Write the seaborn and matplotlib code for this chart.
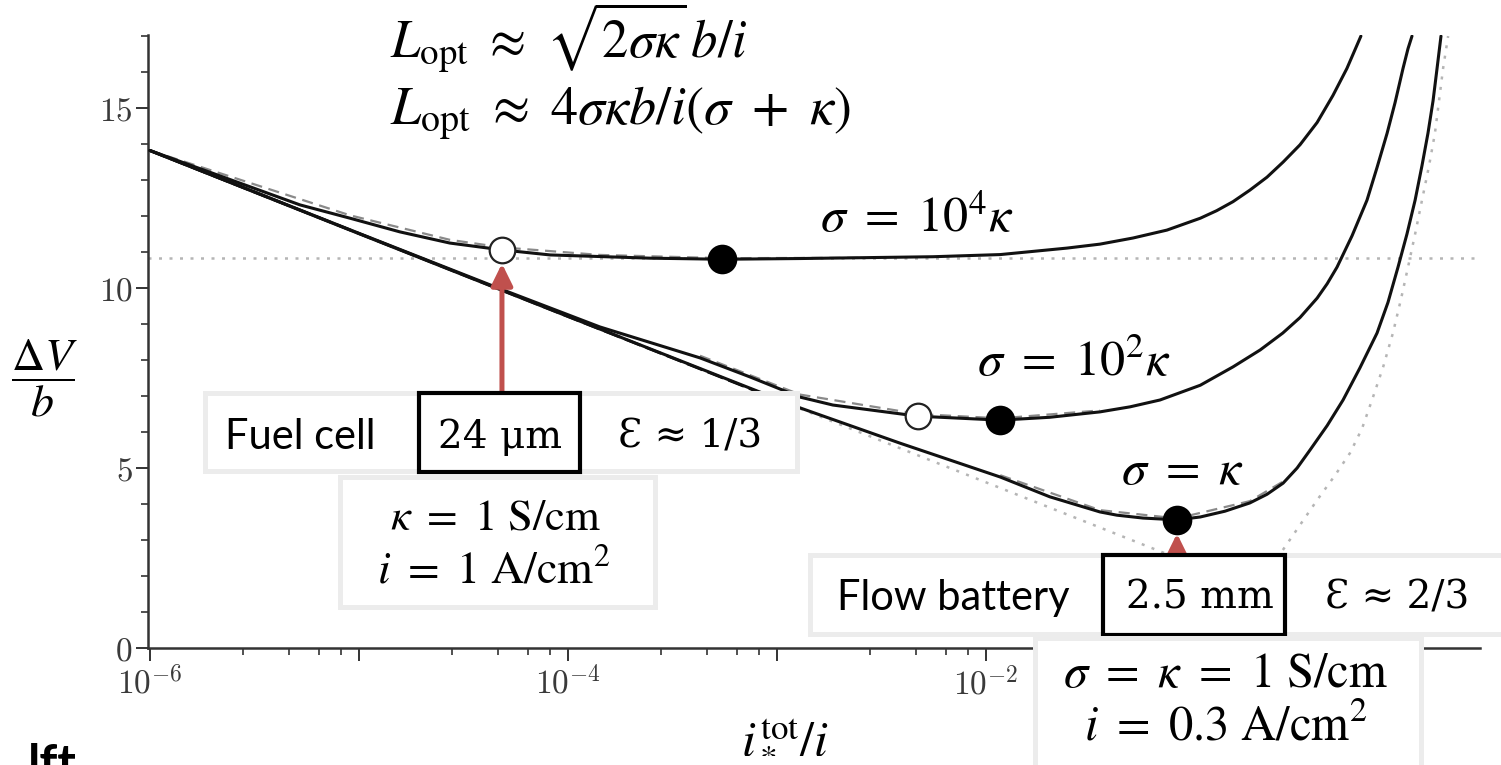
import math
import matplotlib
matplotlib.use("Agg")
import matplotlib.pyplot as plt
import pandas as pd
import seaborn as sns
from matplotlib.patches import Rectangle
from matplotlib.ticker import FixedLocator, FuncFormatter, MultipleLocator, NullFormatter, LogLocator

# ---- data: dimensionless loss dV/b against i*_tot / i ----
ratio_1e4_x = [1.0e-6, 5.22e-6, 9.06e-6, 1.57e-5, 2.72e-5, 4.83e-5, 8.20e-5, 2.47e-4, 5.46e-4,
               1.29e-3, 5.57e-3, 1.17e-2, 2.44e-2, 3.51e-2, 5.05e-2, 7.34e-2, 0.106, 0.127,
               0.152, 0.183, 0.221, 0.264, 0.318, 0.384, 0.457, 0.533, 0.622]
ratio_1e4_y = [13.82, 12.31, 11.94, 11.56, 11.25, 11.06, 10.92, 10.83, 10.80,
               10.82, 10.87, 10.93, 11.11, 11.22, 11.39, 11.61, 11.94, 12.15,
               12.40, 12.72, 13.08, 13.50, 13.98, 14.60, 15.35, 16.10, 17.00]

ratio_1e2_x = [1.0e-6, 1.0e-5, 4.73e-5, 1.42e-4, 4.28e-4, 7.43e-4, 1.29e-3, 1.85e-3, 4.73e-3,
               1.17e-2, 2.02e-2, 3.51e-2, 4.89e-2, 6.80e-2, 0.106, 0.152, 0.205, 0.263, 0.318,
               0.384, 0.429, 0.478, 0.564, 0.665, 0.743, 0.830, 0.906, 0.989, 1.045, 1.092]
ratio_1e2_y = [13.82, 11.52, 9.98, 8.92, 8.06, 7.53, 6.97, 6.75, 6.44,
               6.33, 6.41, 6.56, 6.70, 6.89, 7.30, 7.81, 8.28, 8.75, 9.18,
               9.72, 10.12, 10.58, 11.45, 12.44, 13.35, 14.30, 15.15, 16.10, 16.65, 17.00]

ratio_1_x = [1.0e-6, 1.0e-5, 1.0e-4, 1.29e-3, 3.88e-3, 1.17e-2, 2.02e-2, 3.51e-2, 4.23e-2,
             5.64e-2, 8.20e-2, 0.106, 0.139, 0.183, 0.221, 0.264, 0.308, 0.355, 0.429, 0.511,
             0.615, 0.743, 0.838, 0.936, 1.033, 1.130, 1.219, 1.302, 1.377, 1.439, 1.503]
ratio_1_y = [13.82, 11.51, 9.21, 6.67, 5.69, 4.75, 4.20, 3.78, 3.69,
             3.61, 3.56, 3.64, 3.80, 4.03, 4.27, 4.58, 5.00, 5.50, 6.18, 6.89,
             7.78, 8.75, 9.60, 10.58, 11.50, 12.44, 13.40, 14.30, 15.20, 16.10, 17.00]

# approximate solutions (grey dashed)
approx_1e4_x = [1.0e-6, 9.06e-6, 2.72e-5, 4.83e-5, 1.42e-4, 5.46e-4, 2.5e-3]
approx_1e4_y = [13.82, 12.02, 11.34, 11.13, 10.92, 10.83, 10.84]
approx_1e2_x = [4.28e-4, 1.29e-3, 4.73e-3, 1.17e-2, 3.51e-2]
approx_1e2_y = [8.12, 7.04, 6.50, 6.38, 6.60]
approx_1_x = [1.17e-2, 3.51e-2, 8.20e-2, 0.183, 0.263]
approx_1_y = [4.80, 3.83, 3.60, 4.08, 4.62]

# Tafel line and limiting asymptotes
tafel_x = [1.0e-6, 1.29e-3]
tafel_y = [13.82, 6.65]
asym_left_x = [1.29e-3, 0.17]
asym_left_y = [6.65, 1.77]
asym_right_x = [0.17, 0.263, 0.384, 0.468, 0.552, 0.630, 0.703, 0.794, 0.885, 0.968,
                1.045, 1.130, 1.219, 1.318, 1.406, 1.538, 1.626]
asym_right_y = [1.77, 2.72, 4.11, 4.80, 5.42, 6.10, 6.89, 7.80, 8.75, 9.70,
                10.58, 11.50, 12.44, 13.40, 14.30, 16.10, 17.00]
plateau_y = 10.83

# optimum markers
open_x = [4.83e-5, 4.73e-3]
open_y = [11.06, 6.44]
filled_x = [5.46e-4, 1.17e-2, 8.20e-2]
filled_y = [10.80, 6.33, 3.56]

x_major = [1e-6, 1e-5, 1e-4, 1e-3, 1e-2, 1e-1, 1e0]
x_labels = {-6: r"$10^{-6}$", -4: r"$10^{-4}$", -2: r"$10^{-2}$"}
y_major = [0, 5, 10, 15]

W, H = 1501, 765
sns.set_theme(style="white")
plt.rcParams["font.family"] = ["DejaVu Serif"]
plt.rcParams["mathtext.fontset"] = "cm"

fig = plt.figure(figsize=(W / 100, H / 100), dpi=100)
ax = fig.add_axes([148 / W, 1 - 648 / H, (1480 - 148) / W, (648 - 35) / H])


def frame(xs, ys):
    return pd.DataFrame({"x": xs, "y": ys})


sns.lineplot(data=frame(tafel_x, tafel_y), x="x", y="y", ax=ax, color="black",
             linestyle=(0, (6, 2)), linewidth=2.0, sort=False, estimator=None)
for xs, ys in [(asym_left_x, asym_left_y), (asym_right_x, asym_right_y)]:
    sns.lineplot(data=frame(xs, ys), x="x", y="y", ax=ax, color="#b5b5b5",
                 linestyle=(0, (1.2, 3)), linewidth=1.8, sort=False, estimator=None)
ax.axhline(plateau_y, color="#b5b5b5", linestyle=(0, (1.2, 3)), linewidth=1.8, zorder=1)

for xs, ys in [(ratio_1e4_x, ratio_1e4_y), (ratio_1e2_x, ratio_1e2_y), (ratio_1_x, ratio_1_y)]:
    sns.lineplot(data=frame(xs, ys), x="x", y="y", ax=ax, color="#111111",
                 linewidth=2.2, sort=False, estimator=None, zorder=3)
for xs, ys in [(approx_1e4_x, approx_1e4_y), (approx_1e2_x, approx_1e2_y), (approx_1_x, approx_1_y)]:
    sns.lineplot(data=frame(xs, ys), x="x", y="y", ax=ax, color="#8a8a8a",
                 linestyle=(0, (5, 3)), linewidth=1.6, sort=False, estimator=None, zorder=2)

sns.scatterplot(data=frame(open_x, open_y), x="x", y="y", ax=ax, s=340,
                facecolor="white", edgecolor="#222222", linewidth=1.6, zorder=4)
sns.scatterplot(data=frame(filled_x, filled_y), x="x", y="y", ax=ax, s=390,
                color="black", edgecolor="black", zorder=4)

ax.set_xscale("log")
ax.set_xlim(0.978e-6, 2.31)
ax.set_ylim(0, 17.03)
ax.set_xlabel("")
ax.set_ylabel("")
for side in ["top", "right"]:
    ax.spines[side].set_visible(False)
for side in ["left", "bottom"]:
    ax.spines[side].set_color("#333333")
    ax.spines[side].set_linewidth(1.8)

ax.xaxis.set_major_locator(FixedLocator(x_major))
ax.xaxis.set_major_formatter(FuncFormatter(
    lambda v, p: x_labels.get(int(round(math.log10(v))), "")))
ax.xaxis.set_minor_locator(LogLocator(base=10, subs=[2.8, 4.6, 6.4, 8.2], numticks=20))
ax.xaxis.set_minor_formatter(NullFormatter())
ax.yaxis.set_major_locator(FixedLocator(y_major))
ax.yaxis.set_major_formatter(FuncFormatter(lambda v, p: r"$%d$" % v))
ax.yaxis.set_minor_locator(MultipleLocator(1))
ax.tick_params(which="major", direction="out", length=9, width=1.4, color="#333333",
               labelsize=24, labelcolor="#3a3a3a", pad=2)
ax.tick_params(axis="x", which="major", pad=4)
ax.tick_params(which="minor", direction="out", length=5, width=1.2, color="#333333")
ax.tick_params(axis="both", which="both", bottom=True, left=True)

# red pointers from the annotation boxes to the optimum markers
red = "#C0504D"
arrow = dict(arrowstyle="-|>,head_length=0.65,head_width=0.32", color=red, lw=3.6,
             shrinkA=0, shrinkB=0, mutation_scale=20)
ax.annotate("", xy=(open_x[0], open_y[0] - 0.38), xytext=(open_x[0], 7.12),
            arrowprops=arrow, zorder=3)
ax.annotate("", xy=(filled_x[2], filled_y[2] - 0.38), xytext=(filled_x[2], 2.55),
            arrowprops=arrow, zorder=3, annotation_clip=False)


def fx(px):
    return px / W


def fy(py):
    return 1 - py / H


def box(x0, y0, x1, y1, edge, lw):
    fig.add_artist(Rectangle((fx(x0), fy(y1)), (x1 - x0) / W, (y1 - y0) / H,
                             transform=fig.transFigure, facecolor="white",
                             edgecolor=edge, linewidth=lw, zorder=5))


def label(px, py, s, size, **kw):
    kw.setdefault("ha", "center")
    kw.setdefault("va", "center")
    fig.text(fx(px), fy(py), s, fontsize=size, zorder=6, color="black", **kw)


light = "#ececec"
sans = ["Lato", "DejaVu Sans"]
serif = ["DejaVu Serif"]

# fuel cell annotation
box(205, 393, 797, 471, light, 3.6)
box(419, 393, 580, 472, "black", 3.0)
box(340, 477, 655, 607, light, 3.6)
label(300, 437, "Fuel cell", 30, family=sans)
label(500, 437, "24 μm", 28, family=serif)
label(690, 437, "Ɛ ≈ 1/3", 28, family=serif)
label(495, 517, r"$\kappa\ =\ 1\ \mathrm{S/cm}$", 32, math_fontfamily="stix")
label(494, 572, r"$i\ =\ 1\ \mathrm{A/cm^2}$", 33, math_fontfamily="stix")

# flow battery annotation
box(810, 555, 1504, 634, light, 3.6)
box(1103, 555, 1285, 635, "black", 3.0)
box(1035, 638, 1421, 772, light, 3.6)
label(953, 598, "Flow battery", 30, family=sans)
label(1200, 598, "2.5 mm", 28, family=serif)
label(1397, 598, "Ɛ ≈ 2/3", 28, family=serif)
label(1226, 673, r"$\sigma\ =\ \kappa\ =\ 1\ \mathrm{S/cm}$", 35, math_fontfamily="stix")
label(1226, 727, r"$i\ =\ 0.3\ \mathrm{A/cm^2}$", 35, math_fontfamily="stix")

# curve labels
label(917, 218, r"$\sigma\ =\ 10^4\kappa$", 36, math_fontfamily="stix")
label(1074, 362, r"$\sigma\ =\ 10^2\kappa$", 36, math_fontfamily="stix")
label(1182, 470, r"$\sigma\ =\ \kappa$", 36, math_fontfamily="stix")

# optimum thickness formulas
label(390, 57, r"$L_{\mathrm{opt}}\ \approx\ \sqrt{2\sigma\kappa}\,b/i$", 38,
      math_fontfamily="stix", ha="left", va="baseline")
label(390, 124, r"$L_{\mathrm{opt}}\ \approx\ 4\sigma\kappa b/i(\sigma\ +\ \kappa)$", 39,
      math_fontfamily="stix", ha="left", va="baseline")

# axis titles
label(44, 378, r"$\dfrac{\Delta V}{b}$", 33, math_fontfamily="stix")
label(785, 735, r"$i_*^{\mathrm{tot}}/i$", 36, math_fontfamily="stix")
label(28, 743, "lft", 36, family=sans, fontweight="bold", ha="left", va="top")

fig.savefig("out.png", dpi=100)
